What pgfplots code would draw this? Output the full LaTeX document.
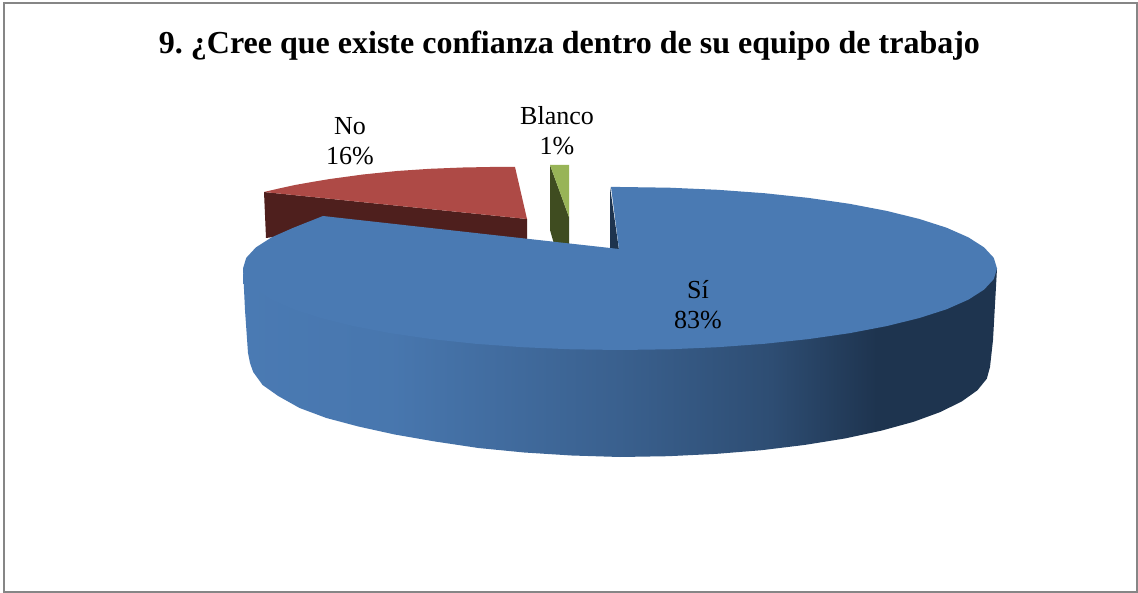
\documentclass[border=0pt]{standalone}
\usepackage{pgfplots}
\pgfplotsset{compat=1.18}
\usepackage{fontspec}
\setmainfont{Liberation Serif}
\definecolor{siTop}{HTML}{4A7AB3}
\definecolor{siDark}{HTML}{1E344F}
\definecolor{noTop}{HTML}{AE4A46}
\definecolor{noDark}{HTML}{4E1F1D}
\definecolor{blancoTop}{HTML}{98B457}
\definecolor{blancoDark}{HTML}{3F4C20}
\definecolor{frameGray}{HTML}{868686}
% Horizontal light falloff along the rim of the large slice
\pgfdeclarehorizontalshading{siRim}{100bp}{
  color(0bp)=(siTop);
  color(25bp)=(siTop);
  color(35bp)=(siTop!95!siDark);
  color(50bp)=(siTop!63!siDark);
  color(60bp)=(siTop!36!siDark);
  color(67bp)=(siDark);
  color(75bp)=(siDark);
  color(100bp)=(siDark)}
\begin{document}
\frenchspacing
\begin{tikzpicture}
\begin{axis}[
  at={(0pt,0pt)}, anchor=south west,
  width=1138pt, height=593pt, scale only axis,
  xmin=0, xmax=1138, ymin=0, ymax=593, y dir=reverse,
  hide axis, clip=false,
  every axis plot/.append style={sharp plot, draw=none}]
% chart area and its frame
\addplot[fill=white] coordinates {(0,0) (1138,0) (1138,593) (0,593)} --cycle;
\addplot[draw=frameGray, line width=2pt, fill=white] coordinates {(4,3) (1137,3) (1137,592) (4,592)} --cycle;
% No: cut face and top face
\addplot[fill=noDark] coordinates {
  (264,192) (527,219) (527,243) (323,230) (266,238)} --cycle;
\addplot[fill=noTop] coordinates {
  (264,192) (279,188.5) (295,185) (312,182) (330,179) (363,174.5) (397,171) (430,168.8)
  (463,167.5) (490,167) (515,167) (527,219)} --cycle;
% Blanco: cut face and top face
\addplot[fill=blancoDark] coordinates {
  (550,165) (569,217) (569,246) (554,244) (550,230)} --cycle;
\addplot[fill=blancoTop] coordinates {
  (550,165) (569,165) (569,217)} --cycle;
% Si: rim, inner cut face, top face
\addplot[shading=siRim] coordinates {
  (243,268.5) (245,310) (248,353) (250,363) (253.2,372) (262.6,385) (278.2,396) (299.6,408)
  (326.4,418) (358.4,426.5) (394.7,434.5) (435,441.5) (478.4,448) (524.2,452.5) (571.7,455.5)
  (620,457) (668.3,456.2) (715.8,453.9) (761.6,450.2) (805,444.9) (845.3,438.4) (881.6,430.6)
  (913.6,421.8) (940.4,412) (961.8,401.4) (977.4,390.3) (986.8,378.7) (990,367) (993,340)
  (997,268.5)} --cycle;
\addplot[fill=siDark] coordinates {(610,187) (610,249) (619,250)} --cycle;
\addplot[fill=siTop] coordinates {
  (619,249) (611,187) (620,187) (669.2,187.7) (717.6,189.8) (764.3,193.2) (808.5,197.9)
  (849.5,203.8) (886.6,210.9) (919.1,218.9) (946.5,227.7) (968.3,237.3) (984.1,247.4)
  (993.8,257.9) (997,268.5) (993.8,279.1) (984.1,289.6) (968.3,299.7) (946.5,309.3)
  (919.1,318.1) (886.6,326.1) (849.5,333.2) (808.5,339.1) (764.3,343.8) (717.6,347.2)
  (669.2,349.3) (620,350) (570.8,349.3) (522.4,347.2) (475.7,343.8) (431.5,339.1)
  (390.5,333.2) (353.4,326.1) (320.9,318.1) (293.5,309.3) (271.7,299.7) (255.9,289.6)
  (246.2,279.1) (243,268.5) (246.2,257.9) (255.9,247.4) (271.7,237.3) (293.5,227.7)
  (323,216)} --cycle;
% title and slice labels
\node[font=\fontsize{32}{36}\selectfont\bfseries, anchor=center] at (569.5,46)
  {9. ¿Cree que existe confianza dentro de su equipo de trabajo};
\node[font=\fontsize{26}{30}\selectfont, align=center, anchor=center] at (350,141) {No\\16\%};
\node[font=\fontsize{26}{30}\selectfont, align=center, anchor=center] at (557,131) {Blanco\\1\%};
\node[font=\fontsize{26}{30}\selectfont, align=center, anchor=center] at (698,305) {Sí\\83\%};
\end{axis}
\end{tikzpicture}
\end{document}
